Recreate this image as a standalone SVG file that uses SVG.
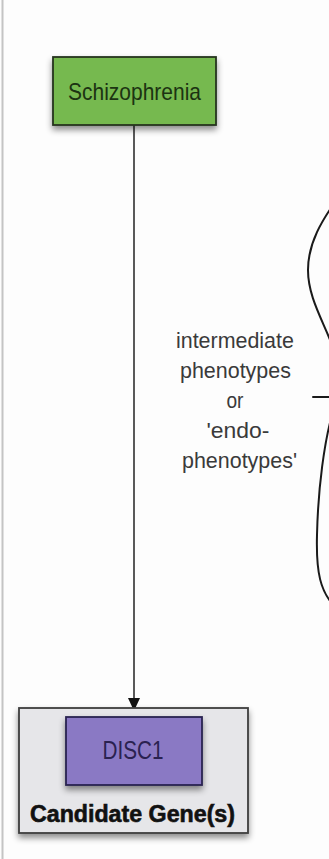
<svg xmlns="http://www.w3.org/2000/svg" width="329" height="859" viewBox="0 0 329 859">
<defs>
<style>
.lbl{font-family:"Liberation Sans",Arial,sans-serif;text-anchor:middle}
.conn{stroke:#222;stroke-width:1.5;fill:none}
.brace{stroke:#1a1a1a;stroke-width:2;fill:none;stroke-linecap:round}
</style>
<filter id="sh" x="-20%" y="-20%" width="140%" height="150%">
<feDropShadow dx="0" dy="4" stdDeviation="3" flood-color="#000" flood-opacity="0.45"/>
</filter>
</defs>
<rect width="329" height="859" fill="#fdfdfd"/>
<line x1="2.5" y1="0" x2="2.5" y2="859" stroke="#c4c4c4" stroke-width="2"/>

<g id="connectors">
<line class="conn" x1="134" y1="125" x2="134" y2="698"/>
<path d="M128,698 L140,698 L134,711 Z" fill="#111"/>
</g>

<g id="schizophrenia">
<rect x="53" y="57" width="163" height="68" fill="#76b94f" stroke="#26331e" stroke-width="1.8" filter="url(#sh)"/>
<text class="lbl" x="134.5" y="100" font-size="24" fill="#1c3312" textLength="133" lengthAdjust="spacingAndGlyphs">Schizophrenia</text>
</g>

<g id="candidate-genes">
<rect x="19" y="708" width="229" height="125" fill="#e6e6e9" stroke="#3e3e3e" stroke-width="1.8" filter="url(#sh)"/>
<text class="lbl" x="132.5" y="822" font-size="23" font-weight="bold" fill="#111" stroke="#111" stroke-width="0.6" textLength="205" lengthAdjust="spacingAndGlyphs">Candidate Gene(s)</text>
</g>

<g id="disc1">
<rect x="66" y="717" width="136" height="68" fill="#8a79c4" stroke="#2a2350" stroke-width="1.8" filter="url(#sh)"/>
<text class="lbl" x="133" y="759" font-size="25" fill="#2a2250" textLength="61" lengthAdjust="spacingAndGlyphs">DISC1</text>
</g>

<g id="endophenotypes">
<text class="lbl" font-size="22" fill="#3a3a3a">
<tspan x="238" y="348" textLength="118" lengthAdjust="spacingAndGlyphs">intermediate</tspan>
<tspan x="238.5" y="378" textLength="111" lengthAdjust="spacingAndGlyphs">phenotypes</tspan>
<tspan x="238" y="408" textLength="17" lengthAdjust="spacingAndGlyphs">or</tspan>
<tspan x="241" y="438" textLength="63" lengthAdjust="spacingAndGlyphs">'endo-</tspan>
<tspan x="239.5" y="468" textLength="115" lengthAdjust="spacingAndGlyphs">phenotypes'</tspan>
</text>
</g>

<g id="brace">
<path class="brace" d="M338,198 C322,220 308,243 308,270 C308,298 324,322 334,350"/>
<path class="brace" d="M313,397 L336,397"/>
<path class="brace" d="M334,408 C324,440 318,490 317,535 C316,572 320,592 336,608"/>
</g>
</svg>
